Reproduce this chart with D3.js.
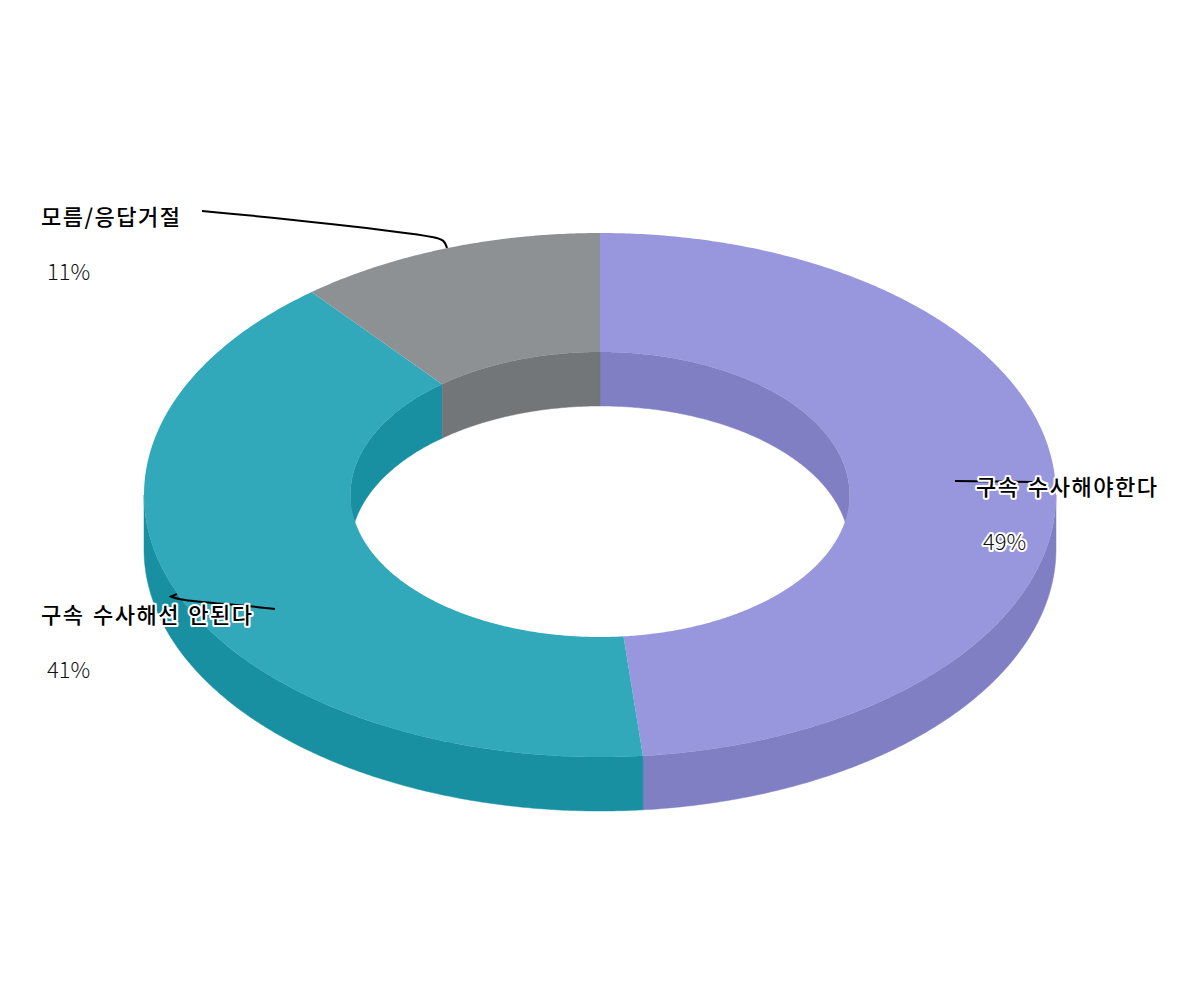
<!DOCTYPE html>
<html>
<head>
<meta charset="utf-8">
<script src="https://cdn.jsdelivr.net/npm/d3@7"></script>
<style>
html,body{margin:0;padding:0;background:#fff}
svg{display:block}
text{font-family:"Noto Sans CJK KR","Noto Sans",sans-serif}
</style>
</head>
<body>
<svg id="c" width="1200" height="1000"></svg>
<script>
const categories = ["구속 수사해야한다", "구속 수사해선 안된다", "모름/응답거절"];
const values = [48.5, 40.6, 10.9];
const valueLabels = ["49%", "41%", "11%"];
const topColors = ["#9897DE", "#31A9BA", "#8D9194"];
const sideColors = ["#807FC4", "#1890A1", "#727679"];

const cx = 600, cy = 495, rx = 456, ry = 262, irx = 249.5, iry = 142.5, depth = 54;
const svg = d3.select("#c");
const pie = d3.pie().sort(null).value(d => d)(values);

const line = d3.line();
const outer = (a, z = 0) => [cx + rx * Math.sin(a), cy - ry * Math.cos(a) + z];
const inner = (a, z = 0) => [cx + irx * Math.sin(a), cy - 0.5 - iry * Math.cos(a) + z];
const samples = (a0, a1) => {
  const n = Math.max(2, Math.ceil(Math.abs(a1 - a0) * 120));
  return d3.range(n + 1).map(i => a0 + (a1 - a0) * i / n);
};
const TAU = Math.PI * 2;

// Inner walls (back half of the hole), drawn first
pie.forEach((p, i) => {
  [[-Math.PI / 2 + TAU, TAU], [0, Math.PI / 2]].forEach(([lo, hi]) => {
    const a0 = Math.max(p.startAngle, lo), a1 = Math.min(p.endAngle, hi);
    if (a1 <= a0) return;
    const s = samples(a0, a1);
    svg.append("path")
      .attr("d", line(s.map(a => inner(a)).concat(s.slice().reverse().map(a => inner(a, depth)))) + "Z")
      .attr("fill", sideColors[i]).attr("stroke", sideColors[i]).attr("stroke-width", 0.5);
  });
});

// Outer walls (front half)
pie.forEach((p, i) => {
  const a0 = Math.max(p.startAngle, Math.PI / 2), a1 = Math.min(p.endAngle, Math.PI * 1.5);
  if (a1 <= a0) return;
  const s = samples(a0, a1);
  svg.append("path")
    .attr("d", line(s.map(a => outer(a)).concat(s.slice().reverse().map(a => outer(a, depth)))) + "Z")
    .attr("fill", sideColors[i]).attr("stroke", sideColors[i]).attr("stroke-width", 0.5);
});

// Top faces
pie.forEach((p, i) => {
  const s = samples(p.startAngle, p.endAngle);
  svg.append("path")
    .attr("d", line(s.map(a => outer(a)).concat(s.slice().reverse().map(a => inner(a)))) + "Z")
    .attr("fill", topColors[i]);
});

// Leader lines
const leaders = [
  "M955,481 L1035,482",
  "M275,609 C245,605 205,603 185,600 C178,599 174,598 171,596.5 L177,594",
  "M202,211 C270,217 400,231 432,237 C443,239 445,241 447,248"
];
svg.selectAll("path.leader").data(leaders).join("path")
  .attr("class", "leader").attr("d", d => d)
  .attr("fill", "none").attr("stroke", "#000").attr("stroke-width", 2);

// Labels
const labelPos = [
  {x: 976, y: 495, vx: 983, vy: 550},
  {x: 41, y: 623, vx: 47, vy: 678},
  {x: 41, y: 225, vx: 47, vy: 280}
];
categories.forEach((c, i) => {
  const q = labelPos[i];
  svg.append("text").attr("x", q.x).attr("y", q.y).text(c)
    .attr("font-size", 22).attr("font-weight", 500).attr("fill", "#000")
    .attr("letter-spacing", 1.5).attr("word-spacing", 2)
    .attr("stroke", "#fff").attr("stroke-width", 4).attr("paint-order", "stroke").attr("stroke-linejoin", "round");
  svg.append("text").attr("x", q.vx).attr("y", q.vy).text(valueLabels[i])
    .attr("font-size", 22).attr("font-weight", 300).attr("fill", "#111")
    .attr("stroke", "#fff").attr("stroke-width", 4).attr("paint-order", "stroke").attr("stroke-linejoin", "round");
});
</script>
</body>
</html>
